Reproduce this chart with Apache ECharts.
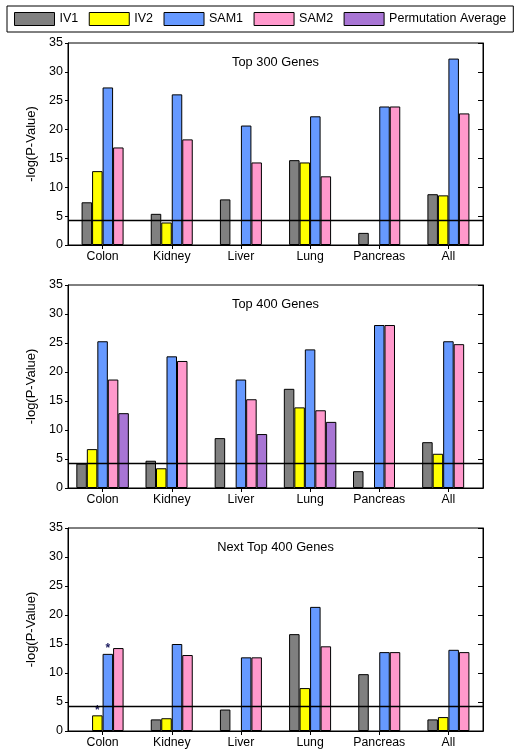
<!DOCTYPE html>
<html><head><meta charset="utf-8">
<script src="https://cdn.jsdelivr.net/npm/echarts@6/dist/echarts.min.js"></script>
<style>html,body{margin:0;padding:0;background:#fff}#c{width:525px;height:754px}</style>
</head><body><div id="c"></div>
<script>
const categories = ['Colon','Kidney','Liver','Lung','Pancreas','All'];
const seriesNames = ['IV1','IV2','SAM1','SAM2','Permutation Average'];
const panelTitles = ['Top 300 Genes','Top 400 Genes','Next Top 400 Genes'];
const yMin = 0, yMax = 35, yStep = 5;
const thresholdLine = 4.3;

const t300_IV1  = [7.4, 5.4, 7.9, 14.7, 2.1, 8.8];
const t300_IV2  = [12.8, 3.9, null, 14.3, null, 8.6];
const t300_SAM1 = [27.3, 26.1, 20.7, 22.3, 24.0, 32.3];
const t300_SAM2 = [16.9, 18.3, 14.3, 11.9, 24.0, 22.8];

const t400_IV1  = [4.2, 4.7, 8.6, 17.1, 2.9, 7.9];
const t400_IV2  = [6.7, 3.4, null, 13.9, null, 5.9];
const t400_SAM1 = [25.3, 22.7, 18.7, 23.9, 28.1, 25.3];
const t400_SAM2 = [18.7, 21.9, 15.3, 13.4, 28.1, 24.8];
const t400_PERM = [12.9, null, 9.3, 11.4, null, null];

const n400_IV1  = [null, 2.0, 3.7, 16.7, 9.8, 2.0];
const n400_IV2  = [2.7, 2.2, null, 7.4, null, 2.4];
const n400_SAM1 = [13.3, 15.0, 12.7, 21.4, 13.6, 14.0];
const n400_SAM2 = [14.3, 13.1, 12.7, 14.6, 13.6, 13.6];
const n400_markIV2  = ['*','','','','',''];
const n400_markSAM1 = ['*','','','','',''];

const colors = ['#808080','#FFFF00','#6699FF','#FF99CC','#A875D4'];
const FONT = "'Liberation Sans', Arial, sans-serif";

const panels = [
  {data:[t300_IV1,t300_IV2,t300_SAM1,t300_SAM2], marks:[null,null,null,null]},
  {data:[t400_IV1,t400_IV2,t400_SAM1,t400_SAM2,t400_PERM], marks:[null,null,null,null,null]},
  {data:[n400_IV1,n400_IV2,n400_SAM1,n400_SAM2], marks:[null,n400_markIV2,n400_markSAM1,null]}
];
const gridTops = [43, 285, 528];
const gridHeights = [202, 203, 203];

const grid = [], xAxis = [], yAxis = [], series = [], title = [];
panels.forEach((p, gi) => {
  grid.push({left:68, right:42, top:gridTops[gi], height:gridHeights[gi], show:true, borderColor:'#000', borderWidth:1, backgroundColor:'#fff'});
  title.push({text:panelTitles[gi], left:275.5, top:gridTops[gi]+13, textAlign:'center', padding:0,
    textStyle:{fontSize:12.8, fontWeight:'normal', color:'#000', fontFamily:FONT}});
  const xb = xAxis.length;
  xAxis.push({type:'category', gridIndex:gi, data:categories, position:'bottom',
    axisLine:{show:true, lineStyle:{color:'#000', width:1}}, axisTick:{show:false},
    axisLabel:{color:'#000', fontSize:12.3, margin:6, fontFamily:FONT}});
  xAxis.push({type:'category', gridIndex:gi, data:categories, position:'top',
    axisLine:{show:true, lineStyle:{color:'#000'}}, axisTick:{show:true, inside:true, length:4, alignWithLabel:true, lineStyle:{color:'#000'}},
    axisLabel:{show:false}});
  const yb = yAxis.length;
  yAxis.push({type:'value', gridIndex:gi, min:yMin, max:yMax, interval:yStep, position:'left',
    name:'-log(P-Value)', nameLocation:'middle', nameGap:29, nameRotate:90,
    nameTextStyle:{color:'#000', fontSize:13, fontFamily:FONT},
    axisLine:{show:true, lineStyle:{color:'#000'}}, axisTick:{show:true, length:3, lineStyle:{color:'#000'}},
    splitLine:{show:false}, axisLabel:{color:'#000', fontSize:12.5, margin:5, fontFamily:FONT}});
  yAxis.push({type:'value', gridIndex:gi, min:yMin, max:yMax, interval:yStep, position:'right',
    axisLine:{show:true, lineStyle:{color:'#000'}}, axisTick:{show:true, inside:true, length:5, lineStyle:{color:'#000'}},
    splitLine:{show:false}, axisLabel:{show:false}});
  p.data.forEach((arr, si) => {
    const mk = p.marks[si];
    const s = {
      name: seriesNames[si], type:'bar', xAxisIndex:xb, yAxisIndex:yb,
      barWidth:10.5, barGap:'0%',
      itemStyle:{color:colors[si], borderColor:'#000', borderWidth:1},
      data: arr.map((v, i) => (mk && mk[i]) ? {value:v, label:{show:true, formatter:mk[i], position:'top', distance:-1, color:'#1a1a5e', fontSize:12, fontWeight:'bold', fontFamily:FONT}} : v)
    };
    if (si === 0) {
      s.markLine = {silent:true, symbol:'none', label:{show:false},
        lineStyle:{color:'#000', width:1.3, type:'solid'}, data:[{yAxis:thresholdLine}]};
    }
    series.push(s);
  });
});

const chart = echarts.init(document.getElementById('c'), null, {renderer:'canvas'});
chart.setOption({
  animation:false,
  backgroundColor:'#fff',
  textStyle:{fontFamily:FONT},
  title: title,
  legend:{data:seriesNames, left:7, top:6, padding:[6,7], itemWidth:40, itemHeight:13, itemGap:10.5,
    icon:'rect', borderColor:'#000', borderWidth:1,
    itemStyle:{borderColor:'#000', borderWidth:1},
    textStyle:{color:'#000', fontSize:12.5, fontFamily:FONT}},
  grid: grid, xAxis: xAxis, yAxis: yAxis, series: series
});
</script></body></html>
